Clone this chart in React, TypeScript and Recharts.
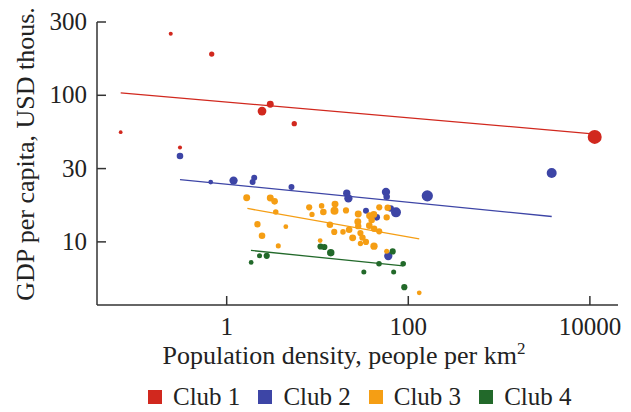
import { Label, Scatter, ScatterChart, XAxis, YAxis, ZAxis } from 'recharts';

// density (people per km2), gdp (USD thous. per capita), pop (bubble size)
const club1 = [
  { density: 0.242, gdp: 263, pop: 3 },
  { density: 0.684, gdp: 191, pop: 12 },
  { density: 0.068, gdp: 56, pop: 1 },
  { density: 0.306, gdp: 44, pop: 3 },
  { density: 2.45, gdp: 78, pop: 50 },
  { density: 3.02, gdp: 87, pop: 28 },
  { density: 5.55, gdp: 64, pop: 12 },
  { density: 11300, gdp: 52, pop: 144 },
];

const club2 = [
  { density: 0.306, gdp: 38.5, pop: 24 },
  { density: 0.667, gdp: 25.6, pop: 8 },
  { density: 1.19, gdp: 26.2, pop: 44 },
  { density: 1.93, gdp: 25.6, pop: 18 },
  { density: 2.01, gdp: 27.4, pop: 18 },
  { density: 5.17, gdp: 23.7, pop: 18 },
  { density: 21.0, gdp: 21.5, pop: 32 },
  { density: 21.9, gdp: 19.8, pop: 44 },
  { density: 56.8, gdp: 21.9, pop: 44 },
  { density: 57.8, gdp: 20.3, pop: 24 },
  { density: 162, gdp: 20.6, pop: 90 },
  { density: 3795, gdp: 29.5, pop: 68 },
  { density: 34.2, gdp: 16.3, pop: 18 },
  { density: 44.9, gdp: 14.7, pop: 24 },
  { density: 64.0, gdp: 16.9, pop: 24 },
  { density: 73.2, gdp: 15.9, pop: 68 },
  { density: 60.2, gdp: 8.0, pop: 44 },
];

const club3 = [
  { density: 1.66, gdp: 20.0, pop: 28 },
  { density: 3.02, gdp: 19.9, pop: 28 },
  { density: 3.37, gdp: 18.9, pop: 24 },
  { density: 3.47, gdp: 16.0, pop: 14 },
  { density: 2.18, gdp: 13.2, pop: 22 },
  { density: 2.45, gdp: 11.0, pop: 24 },
  { density: 4.48, gdp: 12.7, pop: 8 },
  { density: 3.7, gdp: 9.39, pop: 10 },
  { density: 8.1, gdp: 17.2, pop: 20 },
  { density: 8.7, gdp: 15.4, pop: 12 },
  { density: 11.1, gdp: 17.6, pop: 14 },
  { density: 11.6, gdp: 16.0, pop: 24 },
  { density: 15.6, gdp: 18.1, pop: 28 },
  { density: 15.4, gdp: 16.3, pop: 40 },
  { density: 20.6, gdp: 16.4, pop: 20 },
  { density: 10.7, gdp: 10.2, pop: 8 },
  { density: 13.7, gdp: 13.1, pop: 24 },
  { density: 15.3, gdp: 11.7, pop: 20 },
  { density: 19.1, gdp: 11.7, pop: 14 },
  { density: 22.3, gdp: 12.1, pop: 24 },
  { density: 24.4, gdp: 10.65, pop: 28 },
  { density: 28.1, gdp: 15.5, pop: 28 },
  { density: 27.8, gdp: 13.7, pop: 28 },
  { density: 28.1, gdp: 12.8, pop: 22 },
  { density: 29.7, gdp: 11.5, pop: 20 },
  { density: 31.3, gdp: 10.7, pop: 22 },
  { density: 34.2, gdp: 10.0, pop: 20 },
  { density: 29.7, gdp: 9.75, pop: 12 },
  { density: 37.5, gdp: 15.1, pop: 28 },
  { density: 41.7, gdp: 15.4, pop: 28 },
  { density: 39.5, gdp: 14.1, pop: 24 },
  { density: 37.2, gdp: 12.9, pop: 24 },
  { density: 42.1, gdp: 12.3, pop: 22 },
  { density: 47.9, gdp: 17.2, pop: 20 },
  { density: 47.8, gdp: 11.8, pop: 20 },
  { density: 41.9, gdp: 9.35, pop: 32 },
  { density: 59.4, gdp: 17.1, pop: 24 },
  { density: 57.8, gdp: 14.7, pop: 22 },
  { density: 57.8, gdp: 8.64, pop: 10 },
  { density: 132, gdp: 4.49, pop: 8 },
];

const club4 = [
  { density: 1.86, gdp: 7.24, pop: 8 },
  { density: 2.3, gdp: 8.03, pop: 10 },
  { density: 2.76, gdp: 8.03, pop: 20 },
  { density: 10.8, gdp: 9.3, pop: 20 },
  { density: 11.9, gdp: 9.23, pop: 20 },
  { density: 14.0, gdp: 8.44, pop: 34 },
  { density: 67.3, gdp: 8.61, pop: 20 },
  { density: 47.6, gdp: 7.1, pop: 14 },
  { density: 87.9, gdp: 7.1, pop: 14 },
  { density: 32.4, gdp: 6.24, pop: 10 },
  { density: 69.0, gdp: 6.24, pop: 10 },
  { density: 90.4, gdp: 4.91, pop: 20 },
];

// fitted trend lines (end points)
const fit1 = [{ density: 0.068, gdp: 104 }, { density: 10000, gdp: 54.8 }];
const fit2 = [{ density: 0.306, gdp: 26.6 }, { density: 3800, gdp: 14.9 }];
const fit3 = [{ density: 1.69, gdp: 16.9 }, { density: 132, gdp: 10.5 }];
const fit4 = [{ density: 1.85, gdp: 8.74 }, { density: 88.1, gdp: 6.86 }];

const xTicks = [1, 100, 10000];
const xTickLabels = ['1', '100', '10000'];
const yTicks = [10, 31.62, 100, 316.2];
const yTickLabels = ['10', '30', '100', '300'];

const clubNames = ['Club 1', 'Club 2', 'Club 3', 'Club 4'];
const colors = ['#d1281e', '#3d45a6', '#f59e14', '#22692a'];

const FONT = '"Liberation Serif", "Times New Roman", serif';
const AXIS = '#333';

const XTick = ({ x, y, index }: any) => (
  <g>
    <line x1={x} x2={x} y1={y} y2={y - 9} stroke={AXIS} strokeWidth={1.5} />
    <text x={x} y={y + 30} textAnchor="middle" fontSize={25} fontFamily={FONT} fill="#222">
      {xTickLabels[index]}
    </text>
  </g>
);

const YTick = ({ x, y, index }: any) => (
  <g>
    <line x1={x} x2={x + 9} y1={y} y2={y} stroke={AXIS} strokeWidth={1.5} />
    <text x={x - 10} y={y + 8} textAnchor="end" fontSize={25} fontFamily={FONT} fill="#222">
      {yTickLabels[index]}
    </text>
  </g>
);

const noShape = () => <g />;

export default function App() {
  const clubs = [club1, club2, club3, club4];
  const fits = [fit1, fit2, fit3, fit4];
  return (
    <div style={{ position: 'absolute', left: 0, top: 0, width: 631, height: 412, background: '#fff' }}>
      <ScatterChart width={631} height={412} margin={{ top: 22, right: 13, bottom: 47, left: 0 }}>
        <XAxis
          type="number"
          dataKey="density"
          scale="log"
          domain={[0.0373, 20400]}
          allowDataOverflow
          ticks={xTicks}
          tick={<XTick />}
          tickSize={0}
          tickMargin={0}
          height={60}
          stroke={AXIS}
          strokeWidth={1.5}
        >
          <Label
            content={() => (
              <text x={344} y={364} textAnchor="middle" fontSize={26} fontFamily={FONT} fill="#222">
                Population density, people per km
                <tspan dy={-10} fontSize={17}>2</tspan>
              </text>
            )}
          />
        </XAxis>
        <YAxis
          type="number"
          dataKey="gdp"
          scale="log"
          domain={[3.71, 316.2]}
          allowDataOverflow
          ticks={yTicks}
          tick={<YTick />}
          tickSize={0}
          tickMargin={0}
          width={97}
          stroke={AXIS}
          strokeWidth={1.5}
        >
          <Label
            content={() => (
              <text
                transform="translate(34,154) rotate(-90)"
                textAnchor="middle"
                fontSize={26}
                fontFamily={FONT}
                fill="#222"
              >
                GDP per capita, USD thous.
              </text>
            )}
          />
        </YAxis>
        <ZAxis type="number" dataKey="pop" domain={[0, 150]} range={[10, 160]} />
        {fits.map((f, i) => (
          <Scatter
            key={'fit' + i}
            data={f}
            line={{ stroke: colors[i], strokeWidth: 1.3 }}
            shape={noShape}
            isAnimationActive={false}
            legendType="none"
          />
        ))}
        {clubs.map((c, i) => (
          <Scatter key={clubNames[i]} name={clubNames[i]} data={c} fill={colors[i]} isAnimationActive={false} />
        ))}
      </ScatterChart>
      <div
        style={{
          position: 'absolute',
          left: 148,
          top: 382,
          display: 'flex',
          gap: 18,
          fontFamily: FONT,
          fontSize: 25,
          color: '#222',
          lineHeight: '30px',
        }}
      >
        {clubNames.map((n, i) => (
          <div key={n} style={{ display: 'flex', alignItems: 'center' }}>
            <span style={{ width: 14, height: 14, background: colors[i], marginRight: 11, display: 'inline-block' }} />
            {n}
          </div>
        ))}
      </div>
    </div>
  );
}
